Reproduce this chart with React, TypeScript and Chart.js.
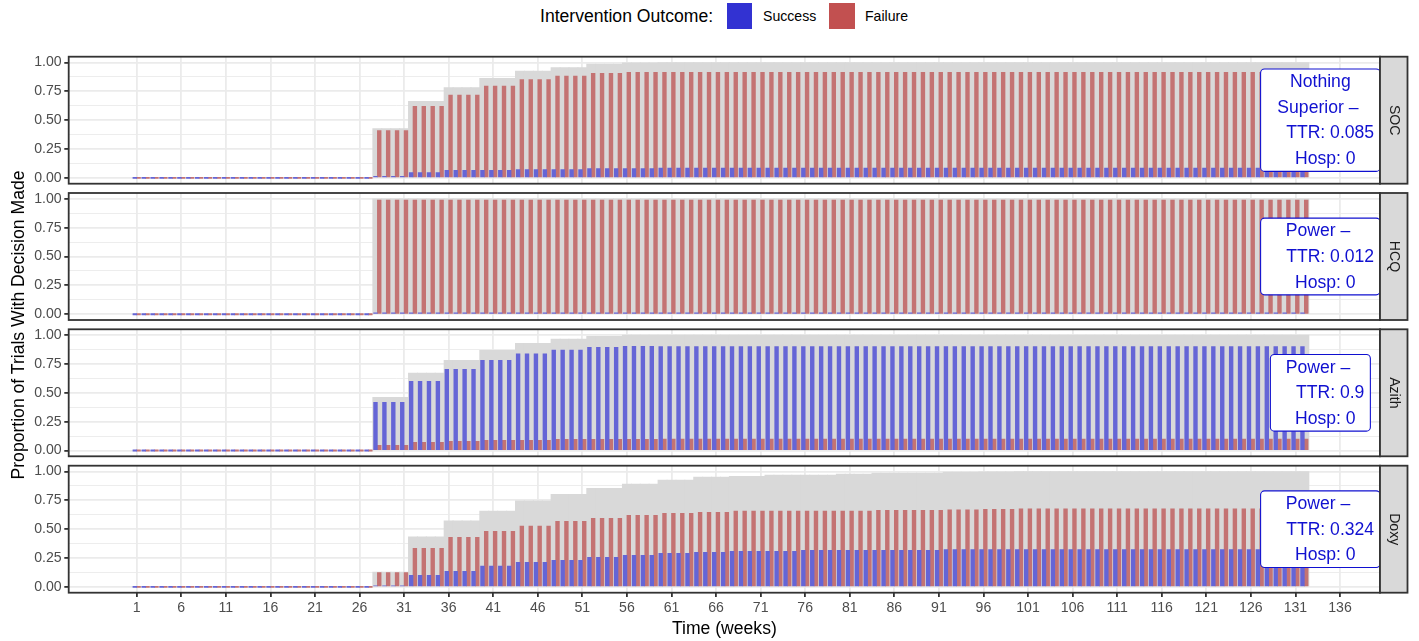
import React, { useEffect, useRef } from 'react';
import { Chart, registerables } from 'chart.js';

Chart.register(...registerables);

const FONT = '"Liberation Sans", Arial, Helvetica, sans-serif';

// ---------------- data ----------------
const PANEL_NAMES = ['SOC', 'HCQ', 'Azith', 'Doxy'];
const X_TICKS = [1, 6, 11, 16, 21, 26, 31, 36, 41, 46, 51, 56, 61, 66, 71, 76, 81, 86, 91, 96, 101, 106, 111, 116, 121, 126, 131, 136];
const Y_MAJOR_TICKS = [0, 0.25, 0.5, 0.75, 1];
const Y_TICK_LABELS = ['0.00', '0.25', '0.50', '0.75', '1.00'];
const Y_MINOR_TICKS = [0.125, 0.375, 0.625, 0.875];
const FIRST_WEEK = 1;
const LAST_WEEK = 132;
const BLOCK_LENGTH = 4;
// interim analyses every 4 weeks; values hold until the next analysis
const BLOCK_STARTS = [28, 32, 36, 40, 44, 48, 52, 56, 60, 64, 68, 72, 76, 80, 84, 88, 92, 96, 100, 104, 108, 112, 116, 120, 124, 128, 132];

const SOC_SUCCESS = [0.014, 0.046, 0.066, 0.066, 0.072, 0.072, 0.081, 0.081, 0.085, 0.085, 0.085, 0.085, 0.085, 0.085, 0.085, 0.085, 0.085, 0.085, 0.085, 0.085, 0.085, 0.085, 0.085, 0.085, 0.085, 0.085, 0.085];
const SOC_FAILURE = [0.410, 0.620, 0.718, 0.795, 0.852, 0.882, 0.905, 0.915, 0.915, 0.915, 0.915, 0.915, 0.915, 0.915, 0.915, 0.915, 0.915, 0.915, 0.915, 0.915, 0.915, 0.915, 0.915, 0.915, 0.915, 0.915, 0.915];
const SOC_TOTAL = [0.428, 0.664, 0.782, 0.862, 0.925, 0.955, 0.986, 0.997, 1, 1, 1, 1, 1, 1, 1, 1, 1, 1, 1, 1, 1, 1, 1, 1, 1, 1, 1];

const HCQ_SUCCESS = [0.012, 0.012, 0.012, 0.012, 0.012, 0.012, 0.012, 0.012, 0.012, 0.012, 0.012, 0.012, 0.012, 0.012, 0.012, 0.012, 0.012, 0.012, 0.012, 0.012, 0.012, 0.012, 0.012, 0.012, 0.012, 0.012, 0.012];
const HCQ_FAILURE = [0.988, 0.988, 0.988, 0.988, 0.988, 0.988, 0.988, 0.988, 0.988, 0.988, 0.988, 0.988, 0.988, 0.988, 0.988, 0.988, 0.988, 0.988, 0.988, 0.988, 0.988, 0.988, 0.988, 0.988, 0.988, 0.988, 0.988];
const HCQ_TOTAL = [1, 1, 1, 1, 1, 1, 1, 1, 1, 1, 1, 1, 1, 1, 1, 1, 1, 1, 1, 1, 1, 1, 1, 1, 1, 1, 1];

const AZITH_SUCCESS = [0.417, 0.600, 0.703, 0.781, 0.838, 0.870, 0.894, 0.902, 0.9, 0.9, 0.9, 0.9, 0.9, 0.9, 0.9, 0.9, 0.9, 0.9, 0.9, 0.9, 0.9, 0.9, 0.9, 0.9, 0.9, 0.9, 0.9];
const AZITH_FAILURE = [0.044, 0.070, 0.079, 0.088, 0.088, 0.096, 0.096, 0.098, 0.1, 0.1, 0.1, 0.1, 0.1, 0.1, 0.1, 0.1, 0.1, 0.1, 0.1, 0.1, 0.1, 0.1, 0.1, 0.1, 0.1, 0.1, 0.1];
const AZITH_TOTAL = [0.461, 0.671, 0.781, 0.868, 0.928, 0.965, 0.990, 1, 1, 1, 1, 1, 1, 1, 1, 1, 1, 1, 1, 1, 1, 1, 1, 1, 1, 1, 1];

const DOXY_SUCCESS = [0.005, 0.100, 0.135, 0.181, 0.213, 0.231, 0.257, 0.274, 0.291, 0.300, 0.309, 0.309, 0.317, 0.317, 0.317, 0.317, 0.324, 0.324, 0.324, 0.324, 0.324, 0.324, 0.324, 0.324, 0.324, 0.324, 0.324];
const DOXY_FAILURE = [0.124, 0.335, 0.430, 0.482, 0.526, 0.569, 0.595, 0.621, 0.638, 0.647, 0.656, 0.656, 0.656, 0.656, 0.664, 0.664, 0.668, 0.672, 0.676, 0.676, 0.676, 0.676, 0.676, 0.676, 0.676, 0.676, 0.676];
const DOXY_TOTAL = [0.129, 0.433, 0.572, 0.656, 0.745, 0.803, 0.855, 0.890, 0.925, 0.951, 0.959, 0.968, 0.968, 0.977, 0.985, 0.985, 0.994, 0.997, 1, 1, 1, 1, 1, 1, 1, 1, 1];

const SOC_LABEL = ['Nothing', 'Superior \u2013 ', '    TTR: 0.085', '  Hosp: 0'];
const HCQ_LABEL = ['Power \u2013 ', '    TTR: 0.012', '  Hosp: 0'];
const AZITH_LABEL = ['Power \u2013 ', '    TTR: 0.9', '  Hosp: 0'];
const DOXY_LABEL = ['Power \u2013 ', '    TTR: 0.324', '  Hosp: 0'];
const LABEL_WEEK = 133.8;
const LABEL_VALUE = 0.5;

const LEGEND_TITLE = 'Intervention Outcome:';
const SERIES_NAMES = ['Success', 'Failure'];
const X_TITLE = 'Time (weeks)';
const Y_TITLE = 'Proportion of Trials With Decision Made';

// ---------------- style / layout ----------------
const BLUE_BAR = '#6565D6';
const RED_BAR = '#C47373';
const BLUE_KEY = '#3232D2';
const RED_KEY = '#C25050';
const GRAY_BAR = '#D9D9D9';
const LABEL_BLUE = '#1010D0';
const X_MIN = -6.63;
const X_MAX = 140.49;
const Y_MIN = -0.05;
const Y_MAX = 1.05;
const W = 1419;
const H = 641;
const PLOT_LEFT = 68.7;
const PLOT_RIGHT = 1380;
const PANEL_TOPS = [56.7, 193.0, 329.3, 465.7];
const PANEL_H = 127;
const X_AXIS_H = 30;
const PX_PER_WEEK = (PLOT_RIGHT - PLOT_LEFT) / (X_MAX - X_MIN);
const DODGE_BAR_PX = PX_PER_WEEK * 0.42;
const TOTAL_BAR_PX = PX_PER_WEEK + 0.4;

function weekly(vals: number[]) {
  const out: { x: number; y: number }[] = [];
  for (let w = FIRST_WEEK; w <= LAST_WEEK; w++) {
    const b = BLOCK_STARTS.findIndex((s) => w >= s && w < s + BLOCK_LENGTH);
    out.push({ x: w, y: b < 0 ? 0 : vals[b] });
  }
  return out;
}

function roundRect(ctx: CanvasRenderingContext2D, x: number, y: number, w: number, h: number, r: number) {
  ctx.beginPath();
  ctx.moveTo(x + r, y);
  ctx.lineTo(x + w - r, y);
  ctx.arcTo(x + w, y, x + w, y + r, r);
  ctx.lineTo(x + w, y + h - r);
  ctx.arcTo(x + w, y + h, x + w - r, y + h, r);
  ctx.lineTo(x + r, y + h);
  ctx.arcTo(x, y + h, x, y + h - r, r);
  ctx.lineTo(x, y + r);
  ctx.arcTo(x, y, x + r, y, r);
  ctx.closePath();
}

function decoPlugin(name: string, lines: string[]) {
  return {
    id: 'panelDeco',
    afterDatasetsDraw(chart: any) {
      const { ctx, chartArea: a, scales } = chart;
      // label box (clipped to panel)
      ctx.save();
      ctx.beginPath();
      ctx.rect(a.left, a.top, a.right - a.left, a.bottom - a.top);
      ctx.clip();
      ctx.font = `17.6px ${FONT}`;
      const cx = scales.x.getPixelForValue(LABEL_WEEK);
      const cy = scales.y.getPixelForValue(LABEL_VALUE);
      const bw = Math.max(...lines.map((l) => ctx.measureText(l).width)) + 12;
      const bh = (lines.length - 1) * 25.7 + 25.3;
      roundRect(ctx, cx - bw / 2, cy - bh / 2, bw, bh, 4);
      ctx.fillStyle = '#FFFFFF';
      ctx.fill();
      ctx.strokeStyle = LABEL_BLUE;
      ctx.lineWidth = 1.1;
      ctx.stroke();
      ctx.fillStyle = LABEL_BLUE;
      ctx.textAlign = 'center';
      ctx.textBaseline = 'middle';
      lines.forEach((l, i) => ctx.fillText(l, cx, cy - bh / 2 + 13.2 + i * 25.7));
      ctx.restore();

      // panel border
      ctx.save();
      ctx.strokeStyle = '#333333';
      ctx.lineWidth = 1.8;
      ctx.strokeRect(a.left, a.top, a.right - a.left, a.bottom - a.top);
      // strip
      const sx = a.right;
      const sw = 27.5;
      ctx.fillStyle = '#D9D9D9';
      ctx.fillRect(sx, a.top, sw, a.bottom - a.top);
      ctx.strokeRect(sx, a.top, sw, a.bottom - a.top);
      ctx.translate(sx + sw / 2, (a.top + a.bottom) / 2);
      ctx.rotate(Math.PI / 2);
      ctx.fillStyle = '#1A1A1A';
      ctx.font = `14.1px ${FONT}`;
      ctx.textAlign = 'center';
      ctx.textBaseline = 'middle';
      ctx.fillText(name, 0, 0);
      ctx.restore();
    },
  };
}

const PANEL_DATA = [
  { s: SOC_SUCCESS, f: SOC_FAILURE, t: SOC_TOTAL, label: SOC_LABEL },
  { s: HCQ_SUCCESS, f: HCQ_FAILURE, t: HCQ_TOTAL, label: HCQ_LABEL },
  { s: AZITH_SUCCESS, f: AZITH_FAILURE, t: AZITH_TOTAL, label: AZITH_LABEL },
  { s: DOXY_SUCCESS, f: DOXY_FAILURE, t: DOXY_TOTAL, label: DOXY_LABEL },
];

function canvasGeom(i: number) {
  const top = Math.floor(PANEL_TOPS[i]) - 4;
  const padTop = PANEL_TOPS[i] - top;
  const isBottom = i === PANEL_TOPS.length - 1;
  const height = isBottom ? H - top : Math.ceil(padTop + PANEL_H + 4);
  const padBottom = height - padTop - PANEL_H - (isBottom ? X_AXIS_H : 0);
  return { top, height, padTop, padBottom, isBottom };
}

function makeChart(canvas: HTMLCanvasElement, i: number) {
  const g = canvasGeom(i);
  const d = PANEL_DATA[i];
  const isMajorY = (v: number) => Y_MAJOR_TICKS.indexOf(v) >= 0;
  return new Chart(canvas, {
    type: 'bar',
    data: {
      datasets: [
        {
          label: SERIES_NAMES[0],
          data: weekly(d.s),
          backgroundColor: BLUE_BAR,
          borderWidth: 0,
          xAxisID: 'x',
          yAxisID: 'y',
          order: 1,
          stack: 'success',
          grouped: true,
          barThickness: DODGE_BAR_PX,
          minBarLength: 1.2,
        } as any,
        {
          label: SERIES_NAMES[1],
          data: weekly(d.f),
          backgroundColor: RED_BAR,
          borderWidth: 0,
          xAxisID: 'x',
          yAxisID: 'y',
          order: 1,
          stack: 'failure',
          grouped: true,
          barThickness: DODGE_BAR_PX,
          minBarLength: 1.2,
        } as any,
        {
          label: 'Decided',
          data: weekly(d.t),
          backgroundColor: GRAY_BAR,
          borderWidth: 0,
          xAxisID: 'x',
          yAxisID: 'y',
          order: 2,
          stack: 'total',
          grouped: false,
          barThickness: TOTAL_BAR_PX,
        } as any,
      ],
    },
    options: {
      animation: false,
      responsive: false,
      maintainAspectRatio: false,
      devicePixelRatio: 1,
      events: [],
      layout: { padding: { left: 0, right: W - PLOT_RIGHT, top: g.padTop, bottom: g.padBottom } },
      plugins: { legend: { display: false }, tooltip: { enabled: false } },
      scales: {
        x: {
          type: 'linear',
          min: X_MIN,
          max: X_MAX,
          offset: false,
          afterBuildTicks: (s: any) => {
            s.ticks = X_TICKS.map((v) => ({ value: v }));
          },
          afterFit: (s: any) => {
            s.height = g.isBottom ? X_AXIS_H : 0;
            s.paddingLeft = 0;
            s.paddingRight = 0;
          },
          border: { display: false },
          grid: {
            offset: false,
            color: '#EBEBEB',
            lineWidth: 1.8,
            drawTicks: g.isBottom,
            tickLength: 4.4,
            tickColor: '#333333',
            tickWidth: 1.8,
          },
          ticks: {
            display: g.isBottom,
            autoSkip: false,
            maxRotation: 0,
            padding: 3,
            color: '#4D4D4D',
            font: { family: FONT, size: 14.1 },
            callback: (v: any) => String(v),
          },
        } as any,
        y: {
          type: 'linear',
          min: Y_MIN,
          max: Y_MAX,
          afterBuildTicks: (s: any) => {
            s.ticks = [...Y_MAJOR_TICKS, ...Y_MINOR_TICKS].sort((a, b) => a - b).map((v) => ({ value: v }));
          },
          afterFit: (s: any) => {
            s.width = PLOT_LEFT;
            s.paddingTop = 0;
            s.paddingBottom = 0;
          },
          border: { display: false },
          grid: {
            color: '#EBEBEB',
            lineWidth: (c: any) => (c.tick && isMajorY(c.tick.value) ? 1.8 : 0.9),
            drawTicks: true,
            tickLength: 4.4,
            tickWidth: 1.8,
            tickColor: (c: any) => (c.tick && isMajorY(c.tick.value) ? '#333333' : 'rgba(0,0,0,0)'),
          },
          ticks: {
            autoSkip: false,
            padding: 2.6,
            color: '#4D4D4D',
            font: { family: FONT, size: 14.1 },
            callback: (v: any) => {
              const k = Y_MAJOR_TICKS.indexOf(Number(v));
              return k >= 0 ? Y_TICK_LABELS[k] : '';
            },
          },
        } as any,
      },
    },
    plugins: [decoPlugin(PANEL_NAMES[i], d.label) as any],
  } as any);
}

export default function App() {
  const refs = [
    useRef<HTMLCanvasElement>(null),
    useRef<HTMLCanvasElement>(null),
    useRef<HTMLCanvasElement>(null),
    useRef<HTMLCanvasElement>(null),
  ];

  useEffect(() => {
    const charts = refs.map((r, i) => (r.current ? makeChart(r.current, i) : null));
    return () => {
      charts.forEach((c) => c && c.destroy());
    };
  }, []);

  const text = { position: 'absolute' as const, fontFamily: FONT, color: '#000', whiteSpace: 'pre' as const };

  return (
    <div style={{ position: 'absolute', left: 0, top: 0, width: W, height: H, background: '#FFFFFF', overflow: 'hidden' }}>
      {refs.map((r, i) => {
        const g = canvasGeom(i);
        return (
          <canvas
            key={i}
            ref={r}
            width={W}
            height={g.height}
            style={{ position: 'absolute', left: 0, top: g.top, width: W, height: g.height }}
          />
        );
      })}
      {/* legend */}
      <div style={{ ...text, left: 540, top: 6, fontSize: 17.6, lineHeight: '20px' }}>{LEGEND_TITLE}</div>
      <div style={{ position: 'absolute', left: 727, top: 3.3, width: 25.4, height: 25.4, background: BLUE_KEY }} />
      <div style={{ ...text, left: 763, top: 8, fontSize: 14.1, lineHeight: '16px' }}>{SERIES_NAMES[0]}</div>
      <div style={{ position: 'absolute', left: 829.3, top: 3.3, width: 25.4, height: 25.4, background: RED_KEY }} />
      <div style={{ ...text, left: 865, top: 8, fontSize: 14.1, lineHeight: '16px' }}>{SERIES_NAMES[1]}</div>
      {/* axis titles */}
      <div
        style={{
          ...text,
          left: (PLOT_LEFT + PLOT_RIGHT) / 2 - 200,
          top: 618,
          width: 400,
          textAlign: 'center',
          fontSize: 17.6,
          lineHeight: '20px',
        }}
      >
        {X_TITLE}
      </div>
      <div
        style={{
          ...text,
          left: 18 - 250,
          top: (PANEL_TOPS[0] + PANEL_TOPS[3] + PANEL_H) / 2 - 10,
          width: 500,
          height: 20,
          textAlign: 'center',
          fontSize: 17.6,
          lineHeight: '20px',
          transform: 'rotate(-90deg)',
        }}
      >
        {Y_TITLE}
      </div>
    </div>
  );
}
